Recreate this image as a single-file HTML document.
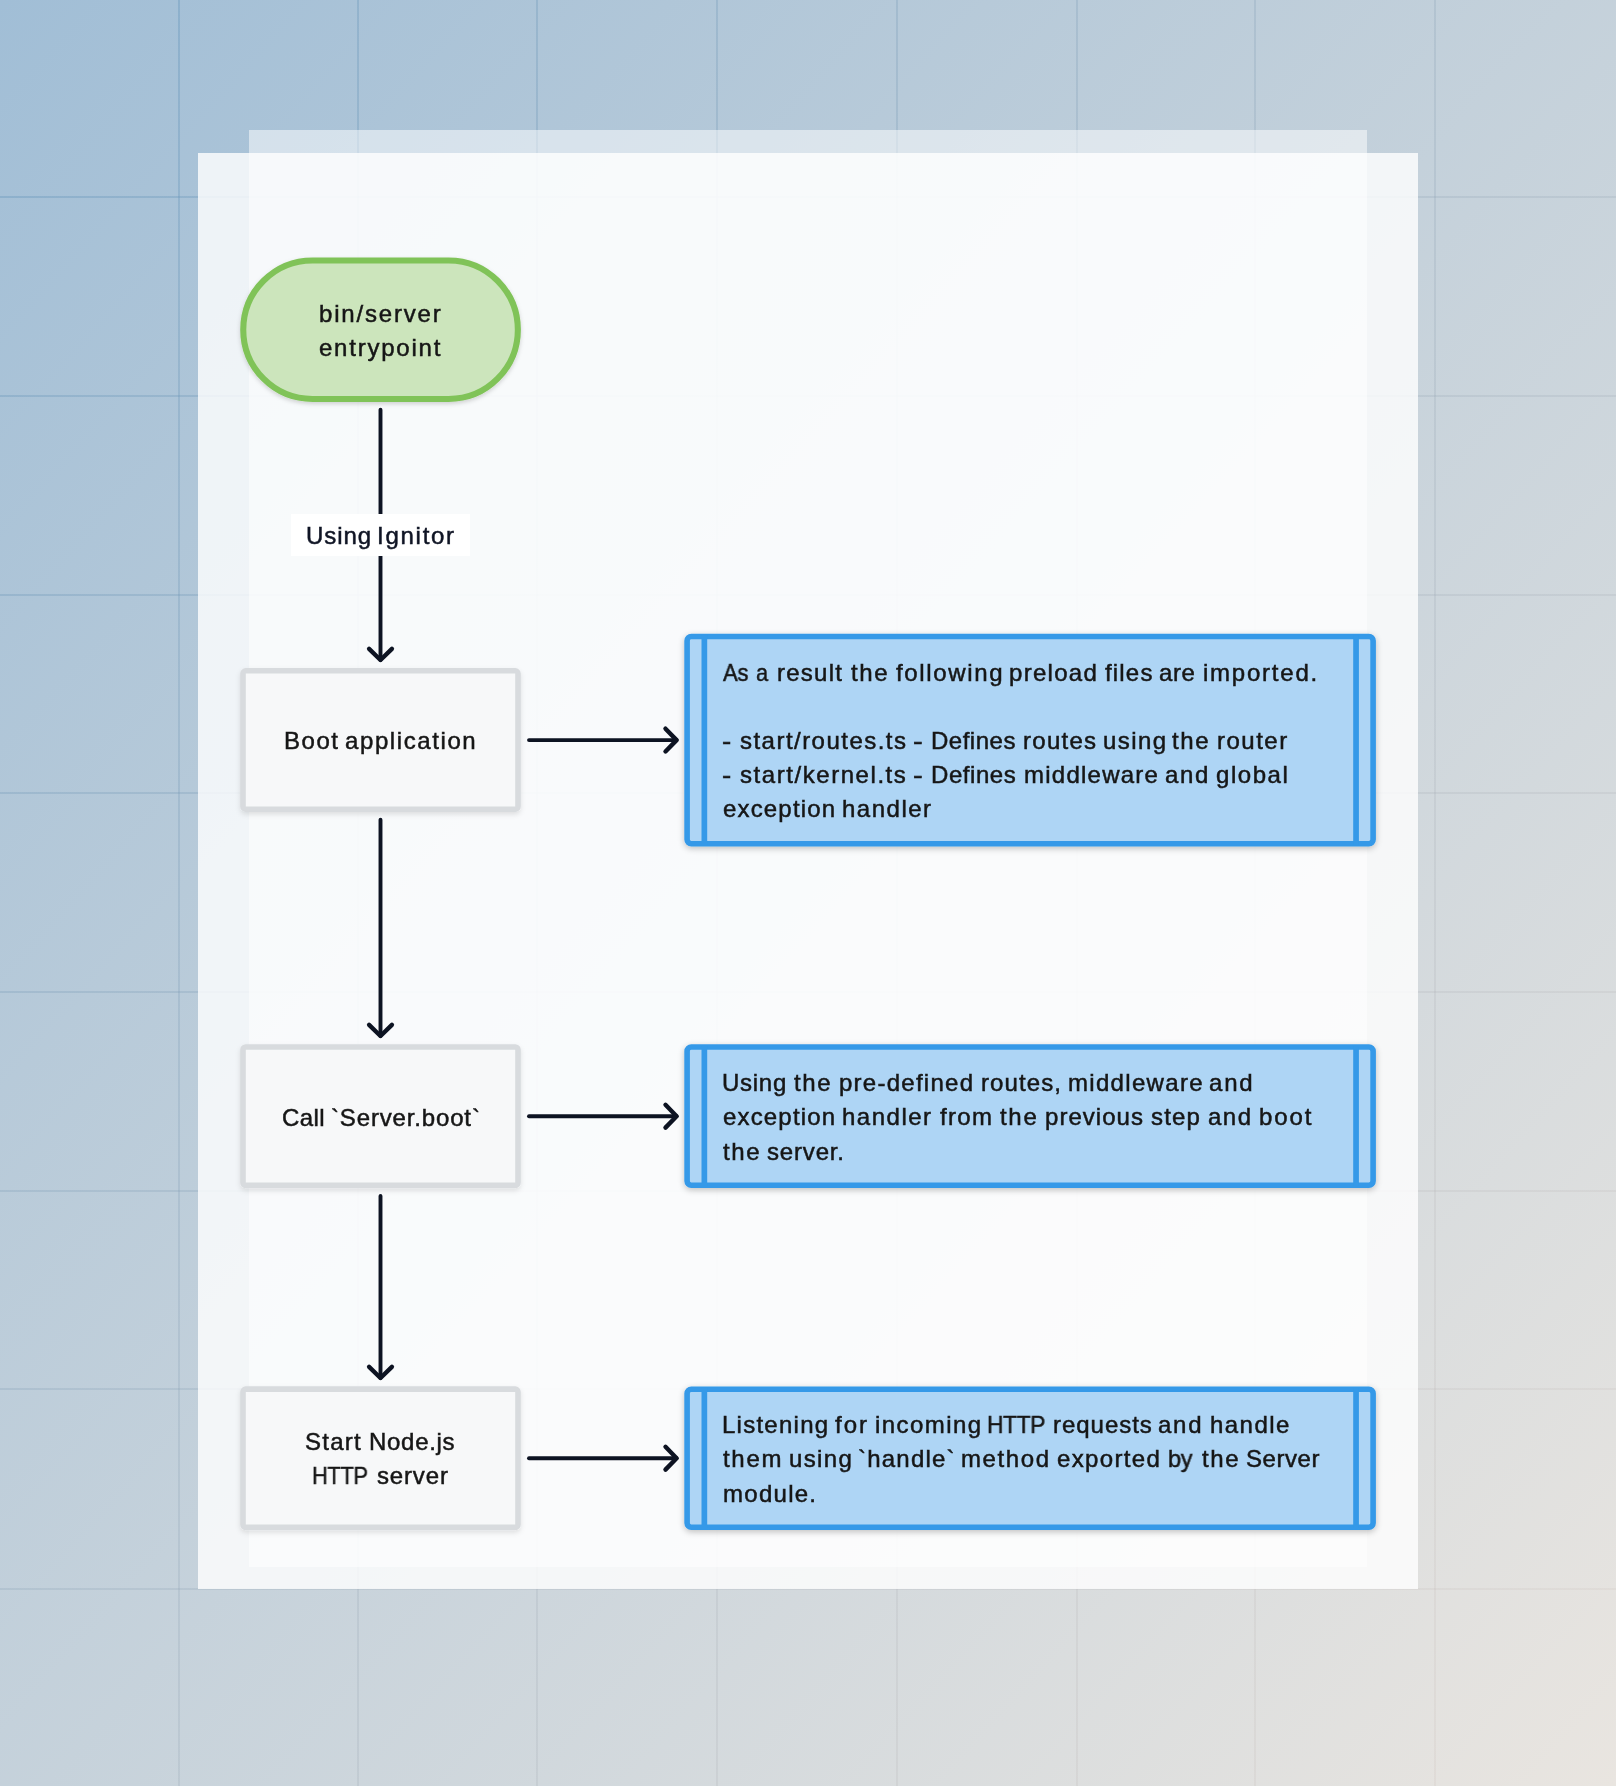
<!DOCTYPE html>
<html><head><meta charset="utf-8"><title>diagram</title>
<style>
html,body{margin:0;padding:0}
body{width:1616px;height:1786px;position:relative;overflow:hidden;font-family:"Liberation Sans",sans-serif;
 background:linear-gradient(to bottom right,#A1BED6,#E9E5E0)}
.back{position:absolute;left:249px;top:130px;width:1117.7px;height:1436.7px;background:rgba(255,255,255,0.5)}
.front{position:absolute;left:198px;top:153px;width:1220px;height:1436.3px;background:rgba(255,255,255,0.8)}
.t{position:absolute;white-space:pre;font-size:24px;line-height:34px;color:#161616;-webkit-text-stroke:0.5px #161616;will-change:transform;transform-origin:0 0}
.lbl{color:#0F1424;-webkit-text-stroke-color:#0F1424}
.label{position:absolute;left:291.1px;top:514px;width:178.9px;height:42px;background:#fff}
.arrows{position:absolute;left:0;top:0}
.pl{fill:#CCE5BC;stroke:#80C359}
.gb{fill:#F7F8F9;stroke:#D8DBDE}
.bb{fill:#AED5F5;stroke:#3499E8}
.bst{stroke:#3499E8;stroke-width:5.7;fill:none}
.ln{stroke:#0D1322;stroke-width:3.9;stroke-linecap:round;fill:none}
.hd{stroke:#0D1322;stroke-width:4.4;stroke-linecap:round;stroke-linejoin:round;fill:none}
</style></head><body>
<svg class="arrows" width="1616" height="1786" viewBox="0 0 1616 1786"><defs><linearGradient id="gl" gradientUnits="userSpaceOnUse" x1="-80.5" y1="89.1" x2="1696.5" y2="1696.9"><stop offset="0" stop-color="rgb(84,140,182)" stop-opacity="0.33"/><stop offset="0.5" stop-color="rgb(140,160,178)" stop-opacity="0.24"/><stop offset="1" stop-color="rgb(200,180,170)" stop-opacity="0.14"/></linearGradient></defs><g fill="url(#gl)"><rect x="178" y="0" width="2" height="1786"/><rect x="357" y="0" width="2" height="1786"/><rect x="536" y="0" width="2" height="1786"/><rect x="716" y="0" width="2" height="1786"/><rect x="896" y="0" width="2" height="1786"/><rect x="1076" y="0" width="2" height="1786"/><rect x="1254" y="0" width="2" height="1786"/><rect x="1434" y="0" width="2" height="1786"/><rect x="0" y="196" width="1616" height="2"/><rect x="0" y="395" width="1616" height="2"/><rect x="0" y="594" width="1616" height="2"/><rect x="0" y="792" width="1616" height="2"/><rect x="0" y="991" width="1616" height="2"/><rect x="0" y="1190" width="1616" height="2"/><rect x="0" y="1388" width="1616" height="2"/><rect x="0" y="1588" width="1616" height="2"/></g></svg>
<div class="back"></div>
<div class="front"></div>
<svg class="arrows" width="1616" height="1786" viewBox="0 0 1616 1786">
<defs>
<filter id="s1" x="-10%" y="-10%" width="120%" height="130%"><feDropShadow dx="0" dy="2" stdDeviation="2.2" flood-color="#000" flood-opacity="0.17"/></filter>
<filter id="s2" x="-10%" y="-10%" width="120%" height="130%"><feDropShadow dx="0" dy="2.5" stdDeviation="2.4" flood-color="#000" flood-opacity="0.11"/></filter>
<filter id="s3" x="-10%" y="-10%" width="120%" height="130%"><feDropShadow dx="0" dy="2" stdDeviation="3.2" flood-color="#000" flood-opacity="0.24"/></filter>
</defs>
<g filter="url(#s1)"><rect x="243.25" y="260.45" width="274.60" height="138.50" rx="69.25" class="pl" stroke-width="6.1"/></g>
<g filter="url(#s2)"><rect x="243.00" y="670.80" width="275.00" height="138.40" rx="2.80" class="gb" stroke-width="5.6"/><rect x="243.00" y="1047.00" width="275.00" height="138.40" rx="2.80" class="gb" stroke-width="5.6"/><rect x="243.00" y="1389.10" width="275.00" height="138.30" rx="2.80" class="gb" stroke-width="5.6"/></g>
<g filter="url(#s3)"><rect x="687.10" y="636.50" width="686.00" height="207.20" rx="4.20" class="bb" stroke-width="5.6"/><path d="M704.35,635.7 V844.5 M1356.05,635.7 V844.5" class="bst"/><rect x="687.10" y="1047.00" width="686.00" height="138.30" rx="4.20" class="bb" stroke-width="5.6"/><path d="M704.35,1046.2 V1186.1 M1356.05,1046.2 V1186.1" class="bst"/><rect x="687.10" y="1389.20" width="686.00" height="138.00" rx="4.20" class="bb" stroke-width="5.6"/><path d="M704.35,1388.4 V1528 M1356.05,1388.4 V1528" class="bst"/></g>
<path d="M380.5,409.8 L380.5,660.0" class="ln"/><path d="M369.1,648.9 L380.5,660.0 L391.9,648.9" class="hd"/>
<path d="M380.5,819.8 L380.5,1036.0" class="ln"/><path d="M369.1,1024.9 L380.5,1036.0 L391.9,1024.9" class="hd"/>
<path d="M380.5,1196 L380.5,1378.0" class="ln"/><path d="M369.1,1366.9 L380.5,1378.0 L391.9,1366.9" class="hd"/>
<path d="M529,740.1 L676.5999999999999,740.1" class="ln"/><path d="M665.4999999999999,728.7 L676.5999999999999,740.1 L665.4999999999999,751.5" class="hd"/>
<path d="M529,1116.2 L676.5999999999999,1116.2" class="ln"/><path d="M665.4999999999999,1104.8 L676.5999999999999,1116.2 L665.4999999999999,1127.6000000000001" class="hd"/>
<path d="M529,1458.2 L676.5999999999999,1458.2" class="ln"/><path d="M665.4999999999999,1446.8 L676.5999999999999,1458.2 L665.4999999999999,1469.6000000000001" class="hd"/>
</svg>
<div class="label"></div>
<div class="t" style="left:319.15px;top:296.70px;letter-spacing:1.811px">bin/server</div>
<div class="t" style="left:319.25px;top:330.50px;letter-spacing:1.772px">entrypoint</div>
<div class="t lbl" style="left:306.00px;top:518.60px;letter-spacing:0.925px">Using</div>
<div class="t lbl" style="left:377.00px;top:518.60px;letter-spacing:1.733px">Ignitor</div>
<div class="t" style="left:283.85px;top:724.30px;letter-spacing:1.517px">Boot</div>
<div class="t" style="left:345.45px;top:724.30px;letter-spacing:1.595px">application</div>
<div class="t" style="left:281.90px;top:1100.60px;letter-spacing:0.400px">Call</div>
<div class="t" style="left:330.90px;top:1100.60px;letter-spacing:0.846px">`Server.boot`</div>
<div class="t" style="left:305.45px;top:1425.00px;letter-spacing:1.225px">Start</div>
<div class="t" style="left:369.35px;top:1425.00px;letter-spacing:0.700px">Node.js</div>
<div class="t" style="left:312.02px;top:1459.10px;letter-spacing:-0.300px;transform:scaleX(0.9057)">HTTP</div>
<div class="t" style="left:376.90px;top:1459.10px;letter-spacing:0.840px">server</div>
<div class="t" style="left:722.73px;top:655.60px;letter-spacing:-0.300px;transform:scaleX(0.9180)">As</div>
<div class="t" style="left:755.92px;top:655.60px;letter-spacing:0.000px;transform:scaleX(0.9020)">a</div>
<div class="t" style="left:776.75px;top:655.60px;letter-spacing:1.240px">result</div>
<div class="t" style="left:850.60px;top:655.60px;letter-spacing:1.600px">the</div>
<div class="t" style="left:895.60px;top:655.60px;letter-spacing:1.638px">following</div>
<div class="t" style="left:1008.75px;top:655.60px;letter-spacing:1.283px">preload</div>
<div class="t" style="left:1104.50px;top:655.60px;letter-spacing:1.175px">files</div>
<div class="t" style="left:1159.35px;top:655.60px;letter-spacing:0.550px">are</div>
<div class="t" style="left:1202.85px;top:655.60px;letter-spacing:1.769px">imported.</div>
<div class="t" style="left:722.43px;top:723.80px;letter-spacing:0.000px;transform:scaleX(1.1538)">-</div>
<div class="t" style="left:739.80px;top:723.80px;letter-spacing:1.468px">start/routes.ts</div>
<div class="t" style="left:913.09px;top:723.80px;letter-spacing:0.000px;transform:scaleX(1.2154)">-</div>
<div class="t" style="left:930.65px;top:723.80px;letter-spacing:0.500px">Defines</div>
<div class="t" style="left:1022.75px;top:723.80px;letter-spacing:1.270px">routes</div>
<div class="t" style="left:1102.75px;top:723.80px;letter-spacing:1.413px">using</div>
<div class="t" style="left:1172.30px;top:723.80px;letter-spacing:1.600px">the</div>
<div class="t" style="left:1217.25px;top:723.80px;letter-spacing:1.490px">router</div>
<div class="t" style="left:722.43px;top:757.80px;letter-spacing:0.000px;transform:scaleX(1.1538)">-</div>
<div class="t" style="left:739.80px;top:757.80px;letter-spacing:1.557px">start/kernel.ts</div>
<div class="t" style="left:913.09px;top:757.80px;letter-spacing:0.000px;transform:scaleX(1.2154)">-</div>
<div class="t" style="left:930.65px;top:757.80px;letter-spacing:0.550px">Defines</div>
<div class="t" style="left:1023.95px;top:757.80px;letter-spacing:1.239px">middleware</div>
<div class="t" style="left:1165.05px;top:757.80px;letter-spacing:1.600px">and</div>
<div class="t" style="left:1215.75px;top:757.80px;letter-spacing:1.540px">global</div>
<div class="t" style="left:722.55px;top:791.80px;letter-spacing:1.169px">exception</div>
<div class="t" style="left:842.20px;top:791.80px;letter-spacing:1.500px">handler</div>
<div class="t" style="left:722.40px;top:1066.40px;letter-spacing:0.725px">Using</div>
<div class="t" style="left:793.80px;top:1066.40px;letter-spacing:1.600px">the</div>
<div class="t" style="left:838.55px;top:1066.40px;letter-spacing:1.260px">pre-defined</div>
<div class="t" style="left:980.95px;top:1066.40px;letter-spacing:1.108px">routes,</div>
<div class="t" style="left:1067.75px;top:1066.40px;letter-spacing:1.317px">middleware</div>
<div class="t" style="left:1209.35px;top:1066.40px;letter-spacing:1.800px">and</div>
<div class="t" style="left:722.55px;top:1100.40px;letter-spacing:1.169px">exception</div>
<div class="t" style="left:842.20px;top:1100.40px;letter-spacing:1.500px">handler</div>
<div class="t" style="left:939.80px;top:1100.40px;letter-spacing:1.350px">from</div>
<div class="t" style="left:1000.30px;top:1100.40px;letter-spacing:1.700px">the</div>
<div class="t" style="left:1045.25px;top:1100.40px;letter-spacing:1.036px">previous</div>
<div class="t" style="left:1150.90px;top:1100.40px;letter-spacing:1.200px">step</div>
<div class="t" style="left:1207.75px;top:1100.40px;letter-spacing:1.500px">and</div>
<div class="t" style="left:1259.05px;top:1100.40px;letter-spacing:1.933px">boot</div>
<div class="t" style="left:722.90px;top:1134.50px;letter-spacing:1.600px">the</div>
<div class="t" style="left:767.00px;top:1134.50px;letter-spacing:0.833px">server.</div>
<div class="t" style="left:722.15px;top:1408.40px;letter-spacing:1.250px">Listening</div>
<div class="t" style="left:834.80px;top:1408.40px;letter-spacing:1.975px">for</div>
<div class="t" style="left:874.55px;top:1408.40px;letter-spacing:1.443px">incoming</div>
<div class="t" style="left:987.05px;top:1408.40px;letter-spacing:-0.300px;transform:scaleX(0.9448)">HTTP</div>
<div class="t" style="left:1052.55px;top:1408.40px;letter-spacing:0.964px">requests</div>
<div class="t" style="left:1158.45px;top:1408.40px;letter-spacing:1.750px">and</div>
<div class="t" style="left:1210.10px;top:1408.40px;letter-spacing:1.450px">handle</div>
<div class="t" style="left:722.90px;top:1442.40px;letter-spacing:1.700px">them</div>
<div class="t" style="left:788.65px;top:1442.40px;letter-spacing:1.338px">using</div>
<div class="t" style="left:857.60px;top:1442.40px;letter-spacing:1.214px">`handle`</div>
<div class="t" style="left:960.85px;top:1442.40px;letter-spacing:1.600px">method</div>
<div class="t" style="left:1056.75px;top:1442.40px;letter-spacing:1.357px">exported</div>
<div class="t" style="left:1168.18px;top:1442.40px;letter-spacing:-0.300px;transform:scaleX(0.9793)">by</div>
<div class="t" style="left:1202.00px;top:1442.40px;letter-spacing:1.600px">the</div>
<div class="t" style="left:1246.25px;top:1442.40px;letter-spacing:0.550px">Server</div>
<div class="t" style="left:723.05px;top:1476.50px;letter-spacing:1.275px">module.</div>
</body></html>
